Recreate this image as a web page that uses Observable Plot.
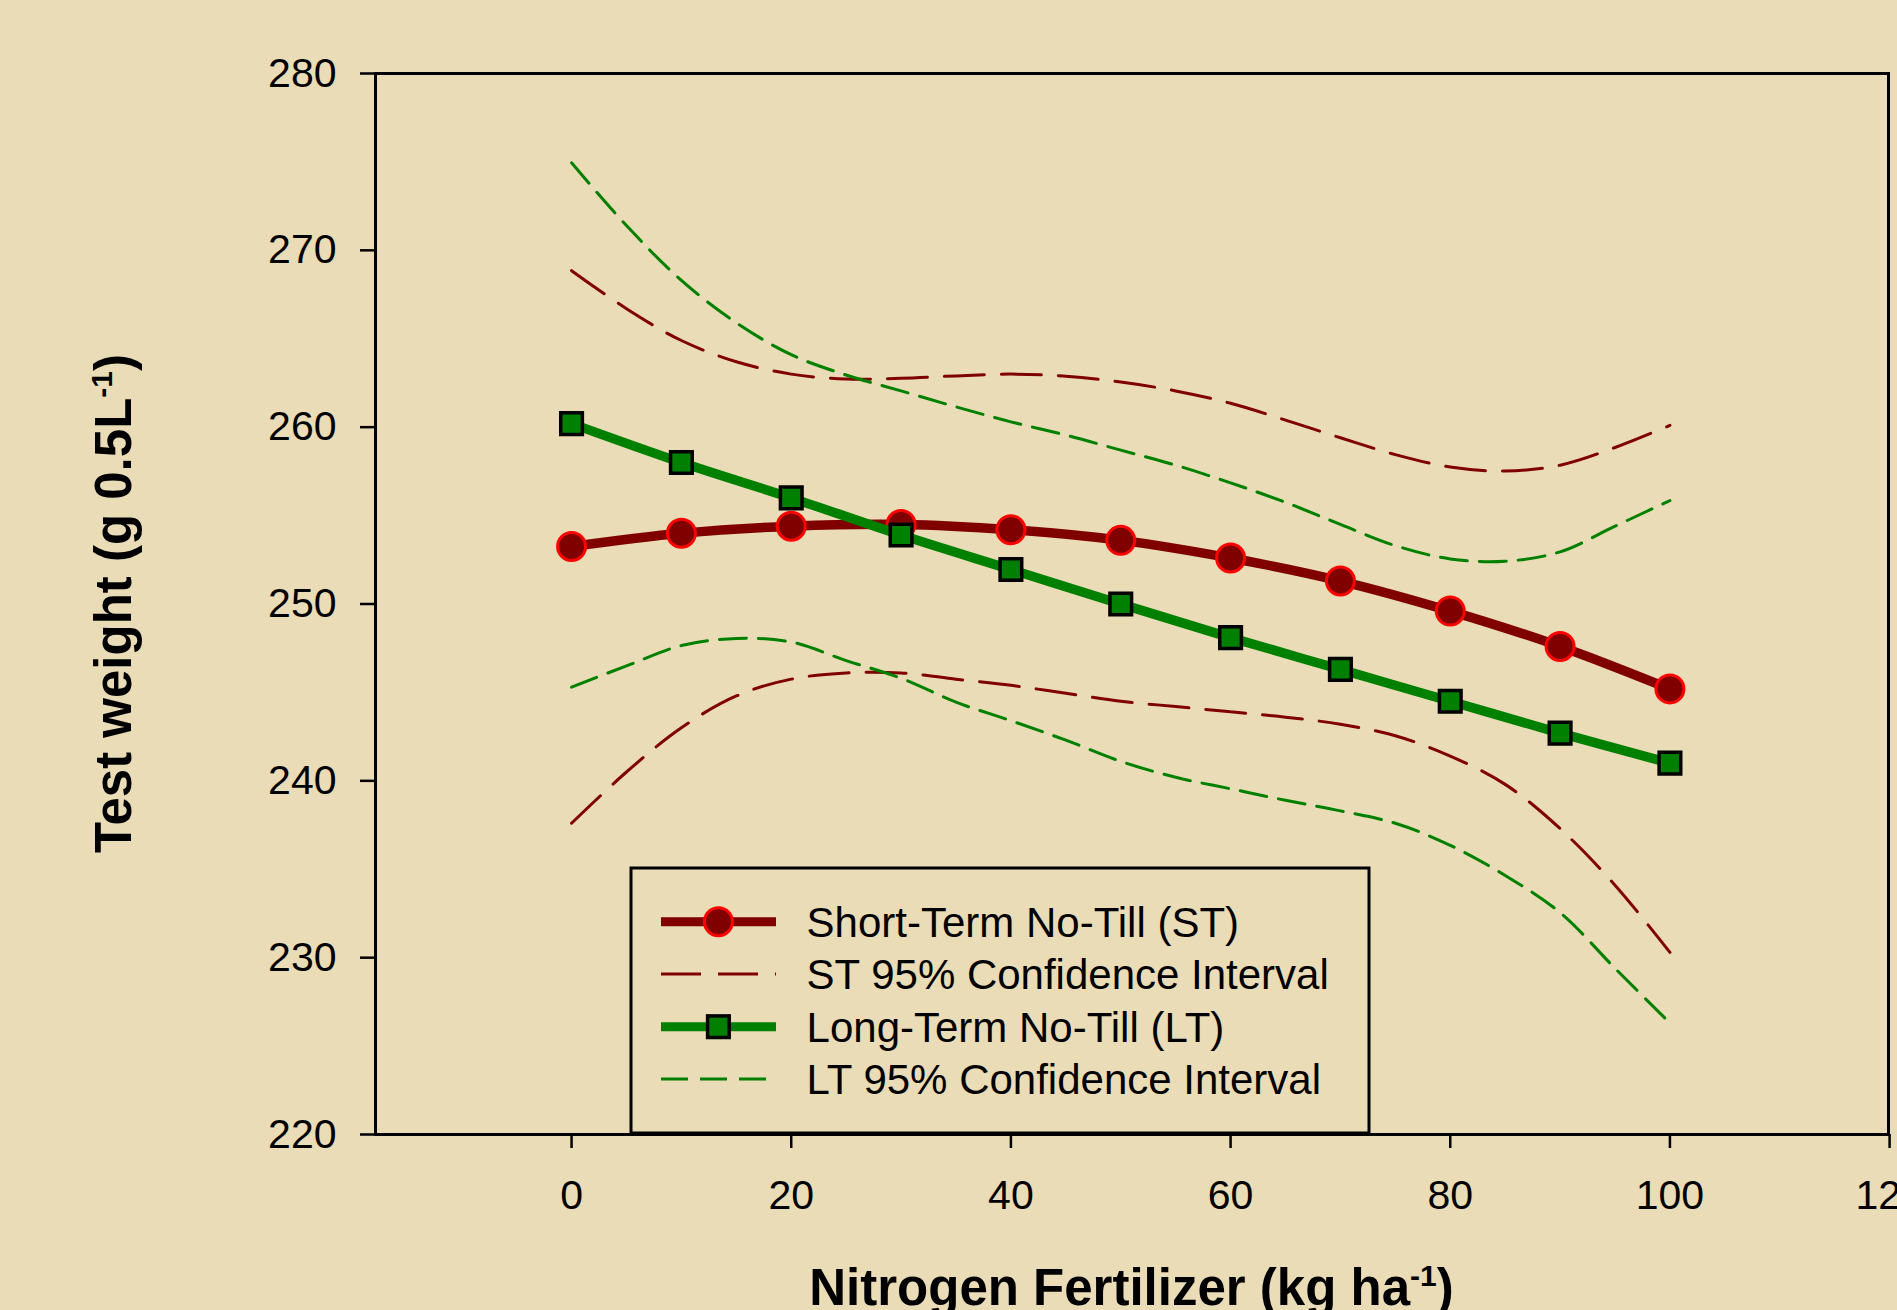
<!DOCTYPE html>
<html>
<head>
<meta charset="utf-8">
<script src="https://cdn.jsdelivr.net/npm/d3@7"></script>
<script src="https://cdn.jsdelivr.net/npm/@observablehq/plot@0.6"></script>
<style>
  html, body { margin: 0; padding: 0; background: #E9DCB6; overflow: hidden; }
  #chart svg { display: block; }
</style>
</head>
<body>
<div id="chart"></div>
<script>
// ---- Data ----
const nitrogen = [0, 10, 20, 30, 40, 50, 60, 70, 80, 90, 100];
const stMean = [253.25, 254.0, 254.4, 254.5, 254.2, 253.6, 252.6, 251.3, 249.6, 247.6, 245.2];
const ltMean = [260.2, 258.0, 256.0, 253.9, 251.95, 250.0, 248.1, 246.3, 244.5, 242.7, 241.0];

const ciN = [0, 5, 10, 15, 20, 25, 30, 35, 40, 45, 50, 55, 60, 65, 70, 75, 80, 85, 90, 95, 100];
const stUpper = [268.85, 266.7, 264.9, 263.7, 263.0, 262.72, 262.77, 262.9, 263.0, 262.88, 262.55, 262.05, 261.35, 260.4, 259.4, 258.45, 257.75, 257.52, 257.85, 258.85, 260.1];
const stLower = [237.6, 240.5, 243.0, 244.8, 245.75, 246.1, 246.1, 245.75, 245.4, 244.95, 244.5, 244.2, 243.9, 243.6, 243.2, 242.55, 241.4, 239.8, 237.3, 234.1, 230.3];
const ltUpper = [274.95, 271.4, 268.3, 265.9, 264.1, 262.95, 262.05, 261.15, 260.3, 259.55, 258.7, 257.85, 256.85, 255.75, 254.5, 253.3, 252.55, 252.42, 252.95, 254.4, 255.85];
const ltLower = [245.3, 246.5, 247.65, 248.05, 247.85, 246.8, 245.8, 244.45, 243.4, 242.3, 241.1, 240.2, 239.55, 238.9, 238.3, 237.6, 236.35, 234.65, 232.55, 229.4, 226.3];

const xTicks = [0, 20, 40, 60, 80, 100, 120];
const yTicks = [220, 230, 240, 250, 260, 270, 280];
const legendLabels = [
  "Short-Term No-Till (ST)",
  "ST 95% Confidence Interval",
  "Long-Term No-Till (LT)",
  "LT 95% Confidence Interval"
];

// ---- Styles ----
const ST_DARK = "#800000", ST_EDGE = "#FF0000";
const LT_GREEN = "#008000";
const FONT = "'Liberation Sans', Arial, Helvetica, sans-serif";
const ST_DASH = "40,17", LT_DASH = "27,12";

const toRows = (xs, ys) => xs.map((x, i) => ({x, y: ys[i]}));
const stRows = toRows(nitrogen, stMean);
const ltRows = toRows(nitrogen, ltMean);

const W = 1897, H = 1310;
const mL = 375, mR = 9, mT = 73, mB = 176;

const chart = Plot.plot({
  width: W, height: H,
  marginLeft: mL, marginRight: mR, marginTop: mT, marginBottom: mB,
  style: {background: "transparent", fontFamily: FONT, fontSize: "41px", color: "black", overflow: "visible"},
  x: {domain: [-17.85, 119.9]},
  y: {domain: [220, 280]},
  marks: [
    Plot.axisY({ticks: yTicks, tickSize: 15, tickPadding: 24, label: null, strokeWidth: 2.5, tickFormat: d => String(d)}),
    Plot.axisX({ticks: xTicks, tickSize: 14, tickPadding: 31, label: null, strokeWidth: 2.5, tickFormat: d => String(d)}),
    Plot.line(toRows(ciN, stUpper), {x: "x", y: "y", curve: "catmull-rom", stroke: ST_DARK, strokeWidth: 3, strokeDasharray: ST_DASH}),
    Plot.line(toRows(ciN, stLower), {x: "x", y: "y", curve: "catmull-rom", stroke: ST_DARK, strokeWidth: 3, strokeDasharray: ST_DASH}),
    Plot.line(toRows(ciN, ltUpper), {x: "x", y: "y", curve: "catmull-rom", stroke: LT_GREEN, strokeWidth: 3, strokeDasharray: LT_DASH}),
    Plot.line(toRows(ciN, ltLower), {x: "x", y: "y", curve: "catmull-rom", stroke: LT_GREEN, strokeWidth: 3, strokeDasharray: LT_DASH}),
    Plot.line(stRows, {x: "x", y: "y", curve: "catmull-rom", stroke: ST_DARK, strokeWidth: 9.5}),
    Plot.dot(stRows, {x: "x", y: "y", r: 14, fill: ST_DARK, stroke: ST_EDGE, strokeWidth: 3}),
    Plot.line(ltRows, {x: "x", y: "y", curve: "catmull-rom", stroke: LT_GREEN, strokeWidth: 9.5}),
    Plot.dot(ltRows, {x: "x", y: "y", symbol: "square", r: 12.2, fill: LT_GREEN, stroke: "black", strokeWidth: 3.5}),
    Plot.frame({stroke: "black", strokeWidth: 3})
  ]
});
document.getElementById("chart").appendChild(chart);

// ---- Legend ----
const svg = d3.select(chart);
const lg = svg.append("g").attr("font-family", FONT).attr("text-anchor", "start");
const box = {x: 631, y: 868, w: 738, h: 265};
lg.append("rect").attr("x", box.x).attr("y", box.y).attr("width", box.w).attr("height", box.h)
  .attr("fill", "none").attr("stroke", "black").attr("stroke-width", 3);
const rowY = [921.7, 974, 1026.7, 1079];
const sx0 = 661, sx1 = 776, mx = 718.4, tx = 806.6;
const styles = [
  {stroke: ST_DARK, w: 9, dash: null, marker: "circle"},
  {stroke: ST_DARK, w: 3, dash: ST_DASH, marker: null},
  {stroke: LT_GREEN, w: 9, dash: null, marker: "square"},
  {stroke: LT_GREEN, w: 3, dash: LT_DASH, marker: null}
];
legendLabels.forEach((label, i) => {
  const s = styles[i], y = rowY[i];
  lg.append("line").attr("x1", sx0).attr("x2", sx1).attr("y1", y).attr("y2", y)
    .attr("stroke", s.stroke).attr("stroke-width", s.w).attr("stroke-dasharray", s.dash);
  if (s.marker === "circle") {
    lg.append("circle").attr("cx", mx).attr("cy", y).attr("r", 14)
      .attr("fill", ST_DARK).attr("stroke", ST_EDGE).attr("stroke-width", 3);
  } else if (s.marker === "square") {
    lg.append("rect").attr("x", mx - 10.8).attr("y", y - 10.8).attr("width", 21.6).attr("height", 21.6)
      .attr("fill", LT_GREEN).attr("stroke", "black").attr("stroke-width", 3.5);
  }
  lg.append("text").attr("x", tx).attr("y", y + 15).attr("font-size", 42).attr("fill", "black")
    .attr("text-anchor", "start").text(label);
});

// ---- Axis titles with superscripts ----
function titled(sel, main, sup, tail) {
  sel.append("tspan").text(main);
  sel.append("tspan").attr("font-size", 30).attr("dy", -19).text(sup);
  sel.append("tspan").attr("font-size", 51).attr("dy", 19).text(tail);
}
const xt = svg.append("text").attr("x", (mL + (W - mR)) / 2).attr("y", 1305)
  .attr("text-anchor", "middle").attr("font-family", FONT).attr("font-weight", "bold").attr("font-size", 51).attr("fill", "black");
titled(xt, "Nitrogen Fertilizer (kg ha", "-1", ")");
const yt = svg.append("text").attr("transform", `translate(131,${(mT + (H - mB)) / 2}) rotate(-90)`)
  .attr("text-anchor", "middle").attr("font-family", FONT).attr("font-weight", "bold").attr("font-size", 51).attr("fill", "black");
titled(yt, "Test weight (g 0.5L", "-1", ")");
</script>
</body>
</html>
